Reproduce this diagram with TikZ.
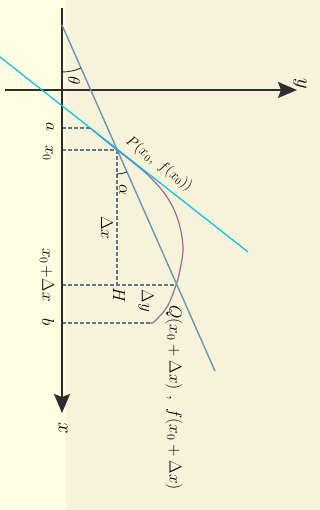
\documentclass[tikz,border=0pt]{standalone}
\usetikzlibrary{arrows.meta}
\definecolor{bgL}{RGB}{254,253,225}
\definecolor{bgR}{RGB}{247,243,218}
\definecolor{axisc}{RGB}{45,45,45}
\definecolor{secc}{RGB}{105,150,180}
\definecolor{tanc}{RGB}{0,190,250}
\definecolor{curvec}{RGB}{155,105,145}
\definecolor{dashc}{RGB}{95,120,135}
\begin{document}
\begin{tikzpicture}[x=1pt,y=1pt,
  axisline/.style={draw=axisc,line width=1.4pt,-{Stealth[length=19pt,width=16pt,inset=3pt]}},
  secline/.style={draw=secc,line width=1.4pt},
  tanline/.style={draw=tanc,line width=1.2pt},
  curveline/.style={draw=curvec,line width=1.2pt},
  dashln/.style={draw=dashc,line width=1.2pt,dash pattern=on 4pt off 2pt},
  arcline/.style={draw=axisc,line width=0.9pt},
  lab/.style={inner sep=0pt,rotate=-90,font=\fontsize{17}{19}\selectfont},
  biglab/.style={inner sep=0pt,rotate=-90,font=\fontsize{22}{24}\selectfont}]
\fill[bgL] (0,0) rectangle (66,-510);
\fill[bgR] (66,0) rectangle (320,-510);
\useasboundingbox (0,0) rectangle (320,-510);
% coordinates
\coordinate (xtop) at (62,-8);
\coordinate (xend) at (62,-413);
\coordinate (yleft) at (5,-90);
\coordinate (ymid) at (52,-90);
\coordinate (yend) at (297,-90);
\coordinate (S) at (62,-25);
\coordinate (SE) at (215,-371);
\coordinate (T1) at (0,-57);
\coordinate (T2) at (248,-252);
\coordinate (P) at (117,-150);
\coordinate (Q) at (176,-285);
\coordinate (H) at (117,-285);
\coordinate (A) at (90,-128);
\coordinate (Ax) at (62,-128);
\coordinate (X0) at (62,-150);
\coordinate (XQ) at (62,-285);
\coordinate (B) at (62,-323);
\coordinate (Bc) at (150,-323);
% dashed
\draw[dashln] (Ax) -- (A);
\draw[dashln] (X0) -- (P);
\draw[dashln] (P) -- (H);
\draw[dashln] (XQ) -- (Q);
\draw[dashln] (B) -- (Bc);
% curve
\draw[curveline] (A) -- (P)
  plot[smooth,tension=0.6] coordinates {(117,-150) (130,-160) (150,-177) (167,-197) (178,-220) (183,-247) (180,-270) (176,-285) (167,-307) (153,-323)} -- (Bc);
% axes
\draw[axisline] (xtop) -- (xend);
\draw[axisline] (yleft) -- (yend);
\draw[draw=axisc,line width=2pt] (yleft) -- (ymid);
% secant and tangent
\draw[secline] (S) -- (SE);
\draw[tanline] (T1) -- (T2);
% angles
\draw[arcline] ([shift={(-90:47)}]S) arc[start angle=-90,end angle=-66,radius=47];
\draw[arcline] ([shift={(-90:24)}]P) arc[start angle=-90,end angle=-66,radius=24];
% labels
\node[biglab] (xlab) at (63,-428) {$x$};
\node[biglab] (ylab) at (300,-84) {$y$};
\node[lab,font=\fontsize{19}{21}\selectfont] (theta) at (74,-81) {$\theta$};
\node[lab] (alpha) at (123,-190) {$\alpha$};
\node[lab] (la) at (50,-127) {$a$};
\node[lab] (lx0) at (48,-153) {$x_0$};
\node[lab] (lxq) at (47,-275) {$x_0\!+\!\Delta x$};
\node[lab] (lb) at (48,-322) {$b$};
\node[lab] (ldx) at (107,-228) {$\Delta x$};
\node[lab] (lH) at (119,-295) {$H$};
\node[lab] (ldy) at (146,-301) {$\Delta y$};
\node[inner sep=0pt,rotate=-37,font=\fontsize{14}{16}\selectfont] (lP) at (159,-164) {$P(x_0,\ f(x_0))$};
\node[lab,anchor=west,font=\fontsize{18}{20}\selectfont] (lQ) at (174,-305) {$Q(x_0+\Delta x)\ ,\ f(x_0+\Delta x)$};
\end{tikzpicture}
\end{document}
